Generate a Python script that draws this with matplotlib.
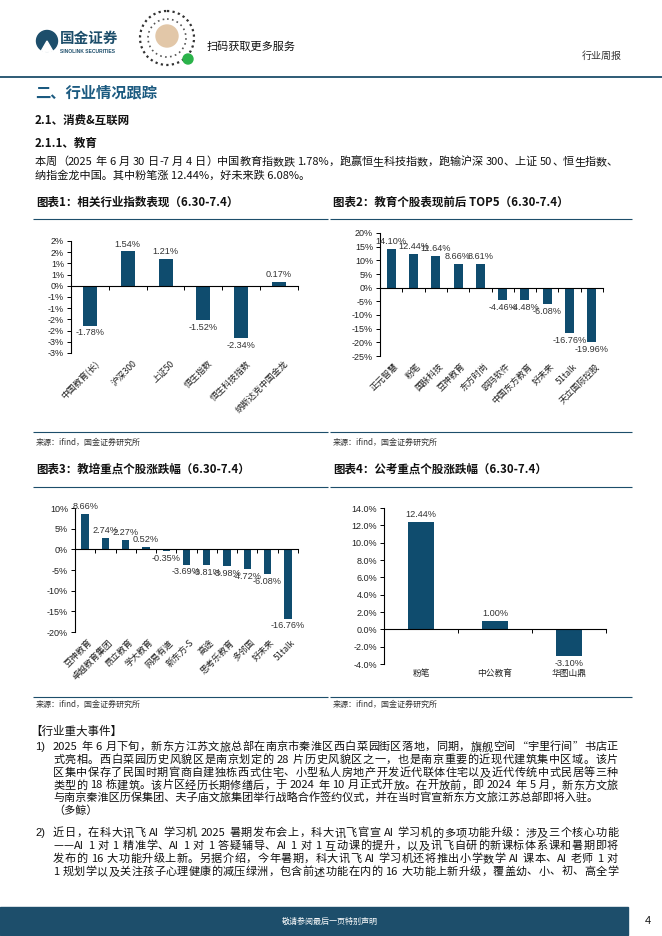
import re
import numpy as np
import matplotlib
matplotlib.use("Agg")
import matplotlib.pyplot as plt
from matplotlib.patches import Circle, Rectangle, Wedge
from matplotlib.transforms import blended_transform_factory

W, H = 662, 936
BLUE = "#0f4c6e"
NAVY = "#1d4e6b"
CJK = ["Noto Sans CJK SC", "DejaVu Sans"]
NUM = ["Liberation Sans", "DejaVu Sans"]

# ---- chart data ----
c1_names = ["中国教育(长)", "沪深300", "上证50", "恒生指数", "恒生科技指数", "纳斯达克中国金龙"]
c1_vals = [-1.78, 1.54, 1.21, -1.52, -2.34, 0.17]
c1_ticks = [-3, -2.5, -2, -1.5, -1, -0.5, 0, 0.5, 1, 1.5, 2]
c1_tick_labels = ["-3%", "-3%", "-2%", "-2%", "-1%", "-1%", "0%", "1%", "1%", "2%", "2%"]

c2_names = ["正元智慧", "粉笔", "国脉科技", "豆神教育", "东方时尚",
            "鸥玛软件", "中国东方教育", "好未来", "51talk", "天立国际控股"]
c2_vals = [14.10, 12.44, 11.64, 8.66, 8.61, -4.46, -4.48, -6.08, -16.76, -19.96]
c2_ticks = [-25, -20, -15, -10, -5, 0, 5, 10, 15, 20]

c3_names = ["豆神教育", "卓越教育集团", "昂立教育", "学大教育", "网易有道", "新东方-S",
            "高途", "思考乐教育", "多邻国", "好未来", "51talk"]
c3_vals = [8.66, 2.74, 2.27, 0.52, -0.35, -3.69, -3.81, -3.98, -4.72, -6.08, -16.76]
c3_ticks = [-20, -15, -10, -5, 0, 5, 10]

c4_names = ["粉笔", "中公教育", "华图山鼎"]
c4_vals = [12.44, 1.00, -3.10]
c4_ticks = [-4, -2, 0, 2, 4, 6, 8, 10, 12, 14]

para1 = [
    "2025 年 6 月下旬，新东方江苏文旅总部在南京市秦淮区西白菜园街区落地，同期，旗舰空间“宇里行间”书店正",
    "式亮相。西白菜园历史风貌区是南京划定的 28 片历史风貌区之一，也是南京重要的近现代建筑集中区域。该片",
    "区集中保存了民国时期官商自建独栋西式住宅、小型私人房地产开发近代联体住宅以及近代传统中式民居等三种",
    "类型的 18 栋建筑。该片区经历长期修缮后，于 2024 年 10 月正式开放。在开放前，即 2024 年 5 月，新东方文旅",
    "与南京秦淮区历保集团、夫子庙文旅集团举行战略合作签约仪式，并在当时官宣新东方文旅江苏总部即将入驻。",
    "（多鲸）",
]
para2 = [
    "近日，在科大讯飞 AI 学习机 2025 暑期发布会上，科大讯飞官宣 AI 学习机的多项功能升级：涉及三个核心功能",
    "——AI 1 对 1 精准学、AI 1 对 1 答疑辅导、AI 1 对 1 互动课的提升，以及讯飞自研的新课标体系课和暑期即将",
    "发布的 16 大功能升级上新。另据介绍，今年暑期，科大讯飞 AI 学习机还将推出小学数学 AI 课本、AI 老师 1 对",
    "1 规划学以及关注孩子心理健康的减压绿洲，包含前述功能在内的 16 大功能上新升级，覆盖幼、小、初、高全学",
]
intro = [
    "本周（2025 年 6 月 30 日-7 月 4 日）中国教育指数跌 1.78%，跑赢恒生科技指数，跑输沪深 300、上证 50、恒生指数、",
    "纳指金龙中国。其中粉笔涨 12.44%，好未来跌 6.08%。",
]

fig = plt.figure(figsize=(W / 100, H / 100), dpi=100)
bg = fig.add_axes([0, 0, 1, 1])
bg.set_xlim(0, W)
bg.set_ylim(H, 0)
bg.axis("off")


def txt(x, y, s, size=8, **kw):
    kw.setdefault("family", CJK)
    kw.setdefault("va", "center")
    return bg.text(x, y, s, fontsize=size, **kw)


def hline(x0, x1, y, color=NAVY, lw=0.8):
    bg.plot([x0, x1], [y, y], color=color, lw=lw, solid_capstyle="butt")


renderer = fig.canvas.get_renderer()


def justify(line, x0, x1, y, size, color="#111111"):
    tokens = re.findall(r"[!-~]+| +|.", line)
    items = []
    for tk in tokens:
        if tk.strip() == "":
            items.append((None, size * 0.28 * 100 / 72))
            continue
        t = txt(x0, y, tk, size, color=color)
        w = t.get_window_extent(renderer).width
        items.append((t, w))
    texts = [i for i in items if i[0] is not None]
    total = sum(w for _, w in items)
    gap = ((x1 - x0) - total) / max(len(texts) - 1, 1)
    x = x0
    for t, w in items:
        if t is None:
            x += w
            continue
        t.set_x(x)
        x += w + gap


# ---- header ----
bg.add_patch(Circle((47, 41), 10.5, color=NAVY))
bg.add_patch(Wedge((47, 41), 11, 60, 120, color="white"))
txt(60, 38, "国金证券", 10.5, weight="bold", color=NAVY)
txt(60, 51.5, "SINOLINK SECURITIES", 3.6, weight="bold", color=NAVY, family=NUM)
bg.add_patch(Circle((167, 38), 27, facecolor="white", edgecolor="#333333", lw=1.6, ls=(0, (1, 1.5))))
bg.add_patch(Circle((167, 38), 19, facecolor="none", edgecolor="#555555", lw=1.2, ls=(0, (1, 2))))
bg.add_patch(Circle((167, 36), 11, color="#e2c7a8"))
bg.add_patch(Circle((188, 59), 5, color="#2bb34a"))
txt(207, 47, "扫码获取更多服务", 8, color="#111111")
txt(582, 56, "行业周报", 7.2, color="#333333")
hline(0, W, 77, NAVY, 1.3)

txt(35, 92, "二、行业情况跟踪", 11, weight="bold", color="#1b5a80")
txt(35, 120, "2.1、消费&互联网", 8.3, weight="bold", color="#111111")
txt(35, 143, "2.1.1、教育", 8.3, weight="bold", color="#111111")
justify(intro[0], 35, 618, 162, 8)
txt(35, 175, intro[1], 8, color="#111111")

# ---- chart frames ----
for x0, x1, title in [(33, 328, "图表1：相关行业指数表现（6.30-7.4）"),
                      (330, 632, "图表2：教育个股表现前后 TOP5（6.30-7.4）")]:
    txt(x0 + 3, 202, title, 8.3, weight="bold", color="#111111")
    hline(x0, x1, 219)
    hline(x0, x1, 432)
    txt(x0 + 3, 442, "来源：ifind，国金证券研究所", 5.8, color="#333333")
for x0, x1, title in [(33, 328, "图表3：教培重点个股涨跌幅（6.30-7.4）"),
                      (330, 632, "图表4：公考重点个股涨跌幅（6.30-7.4）")]:
    txt(x0 + 3, 469, title, 8.3, weight="bold", color="#111111")
    hline(x0, x1, 487)
    hline(x0, x1, 697)
    txt(x0 + 3, 704, "来源：ifind，国金证券研究所", 5.8, color="#333333")


def bar_chart(box, names, vals, ylim, ticks, tick_labels, bw, rotate=True,
              lab_px=6, name_size=6.3):
    x0, y0, x1, y1 = box
    ax = fig.add_axes([x0 / W, 1 - y1 / H, (x1 - x0) / W, (y1 - y0) / H])
    ax.patch.set_alpha(0)
    x = np.arange(len(vals))
    ax.bar(x, vals, width=bw, color=BLUE, zorder=2)
    ax.set_xlim(-0.5, len(vals) - 0.5)
    ax.set_ylim(*ylim)
    ax.set_yticks(ticks)
    ax.set_yticklabels(tick_labels, fontsize=6.5, family=NUM, color="#222222")
    for s in ["top", "right"]:
        ax.spines[s].set_visible(False)
    ax.spines["bottom"].set_position(("data", 0))
    ax.spines["left"].set_linewidth(0.8)
    ax.spines["bottom"].set_linewidth(0.8)
    ax.set_xticks(np.arange(len(vals) + 1) - 0.5)
    ax.set_xticklabels([])
    ax.tick_params(axis="both", length=3, width=0.7, pad=2, direction="out")
    for xi, v in zip(x, vals):
        if v >= 0:
            ax.annotate(f"{v:.2f}%", (xi, v), xytext=(0, 2), textcoords="offset points",
                        ha="center", va="bottom", fontsize=6.6, family=NUM, color="#333333")
        else:
            ax.annotate(f"{v:.2f}%", (xi, v), xytext=(0, -2), textcoords="offset points",
                        ha="center", va="top", fontsize=6.6, family=NUM, color="#333333")
    tr = blended_transform_factory(ax.transData, ax.transAxes)
    yl = -lab_px / (y1 - y0)
    for xi, n in zip(x, names):
        if rotate:
            ax.text(xi + 0.12, yl, n, transform=tr, rotation=45, ha="right", va="top",
                    rotation_mode="anchor", fontsize=name_size, family=CJK, color="#222222")
        else:
            ax.text(xi, yl, n, transform=tr, ha="center", va="top",
                    fontsize=name_size, family=CJK, color="#222222")
    return ax


bar_chart((71, 241, 298, 353), c1_names, c1_vals, (-3, 2), c1_ticks, c1_tick_labels, 0.37)
bar_chart((380, 233, 603, 356), c2_names, c2_vals, (-25, 20), c2_ticks,
          [f"{t}%" for t in c2_ticks], 0.4)
bar_chart((75, 508, 298, 632), c3_names, c3_vals, (-20, 10), c3_ticks,
          [f"{t}%" for t in c3_ticks], 0.36)
bar_chart((384, 508, 606, 664), c4_names, c4_vals, (-4, 14), c4_ticks,
          [f"{t:.1f}%" for t in c4_ticks], 0.34, rotate=False, lab_px=5, name_size=6.3)

# ---- events ----
txt(30, 731, "【行业重大事件】", 8.3, color="#111111")
txt(35, 747, "1)", 8, color="#111111", family=NUM)
for i, line in enumerate(para1):
    y = 747 + i * 12.8
    if i < len(para1) - 2:
        justify(line, 53, 618, y, 8)
    else:
        txt(53, y, line, 8, color="#111111")
txt(35, 833, "2)", 8, color="#111111", family=NUM)
for i, line in enumerate(para2):
    justify(line, 53, 618, 833 + i * 12.9, 8)

# ---- footer ----
bg.add_patch(Rectangle((0, 907), 628, 28, color=NAVY))
txt(330, 921, "敬请参阅最后一页特别声明", 5.8, color="white", ha="center")
txt(645, 921, "4", 8, color="#111111", family=NUM)

fig.savefig("out.png", dpi=100)
